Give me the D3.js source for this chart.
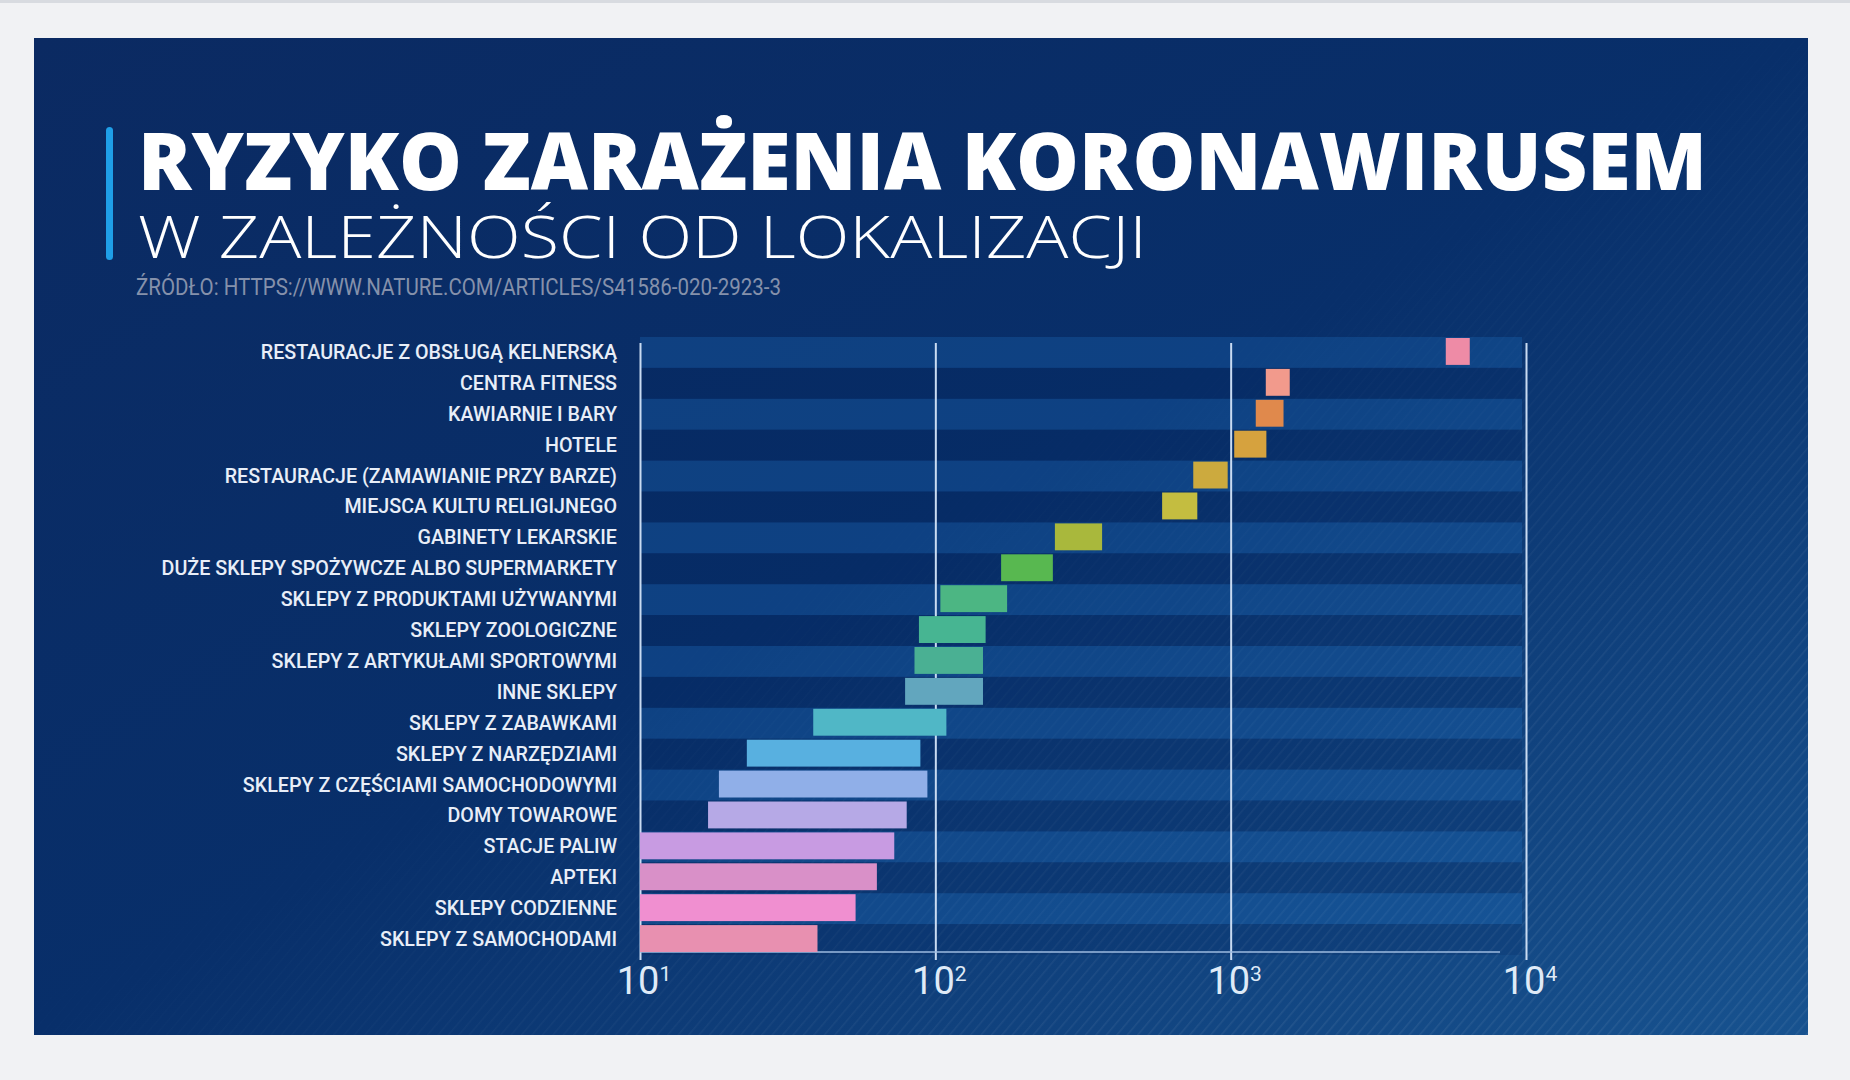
<!DOCTYPE html>
<html>
<head>
<meta charset="utf-8">
<script src="https://cdn.jsdelivr.net/npm/d3@7"></script>
<style>
  body { margin: 0; background: #f1f2f4; }
  svg { display: block; }
</style>
</head>
<body>
<script>
var categories = [
    "RESTAURACJE Z OBSŁUGĄ KELNERSKĄ",
    "CENTRA FITNESS",
    "KAWIARNIE I BARY",
    "HOTELE",
    "RESTAURACJE (ZAMAWIANIE PRZY BARZE)",
    "MIEJSCA KULTU RELIGIJNEGO",
    "GABINETY LEKARSKIE",
    "DUŻE SKLEPY SPOŻYWCZE ALBO SUPERMARKETY",
    "SKLEPY Z PRODUKTAMI UŻYWANYMI",
    "SKLEPY ZOOLOGICZNE",
    "SKLEPY Z ARTYKUŁAMI SPORTOWYMI",
    "INNE SKLEPY",
    "SKLEPY Z ZABAWKAMI",
    "SKLEPY Z NARZĘDZIAMI",
    "SKLEPY Z CZĘŚCIAMI SAMOCHODOWYMI",
    "DOMY TOWAROWE",
    "STACJE PALIW",
    "APTEKI",
    "SKLEPY CODZIENNE",
    "SKLEPY Z SAMOCHODAMI"
];
// lower and upper end of each range (log scale)
var lowValues = [5350, 1315, 1216, 1028, 747, 586, 254, 167, 104, 88, 85, 79, 38.6, 23, 18.5, 17, 10, 10, 10, 10];
var highValues = [6450, 1585, 1510, 1321, 977, 771, 367, 250, 175, 148, 145, 145, 109, 89, 94, 80, 72.6, 63.4, 53.7, 39.9];
var barColors = [
    "#ee8ba6", "#f29a8c", "#e0894c", "#d6a23e", "#ccaa3e", "#c4bd40", "#a9b83c",
    "#58b850", "#4cb683", "#47b592", "#4ab093", "#62a6be", "#50b7c6", "#58b0e0",
    "#90afe8", "#b6a9e6", "#c89be2", "#d990c8", "#f08fd0", "#e890b0"
];
var tickValues = [10, 100, 1000, 10000];

var titleText = "RYZYKO ZARAŻENIA KORONAWIRUSEM";
var subtitleText = "W ZALEŻNOŚCI OD LOKALIZACJI";
var sourceText = "ŹRÓDŁO: HTTPS://WWW.NATURE.COM/ARTICLES/S41586-020-2923-3";

var W = 1850, H = 1080;
var svg = d3.select("body").append("svg")
    .attr("width", W)
    .attr("height", H);

var defs = svg.append("defs");

var bg = defs.append("linearGradient")
    .attr("id", "panelGrad")
    .attr("x1", 0).attr("y1", 0).attr("x2", 1).attr("y2", 1);
bg.append("stop").attr("offset", "0%").attr("stop-color", "#0b2a62");
bg.append("stop").attr("offset", "50%").attr("stop-color", "#082f6a");
bg.append("stop").attr("offset", "100%").attr("stop-color", "#17528f");

// diagonal stripes on the lower right
var pat = defs.append("pattern")
    .attr("id", "stripes")
    .attr("patternUnits", "userSpaceOnUse")
    .attr("width", 8).attr("height", 8)
    .attr("patternTransform", "rotate(40)");
pat.append("rect").attr("width", 1.6).attr("height", 8).attr("fill", "#ffffff").attr("fill-opacity", 0.07);

var fade = defs.append("linearGradient")
    .attr("id", "fadeGrad")
    .attr("x1", 0).attr("y1", 0).attr("x2", 1).attr("y2", 1);
fade.append("stop").attr("offset", "45%").attr("stop-color", "#000");
fade.append("stop").attr("offset", "85%").attr("stop-color", "#fff");
defs.append("mask").attr("id", "stripeMask")
    .append("rect")
    .attr("x", 34).attr("y", 38).attr("width", 1774).attr("height", 997)
    .attr("fill", "url(#fadeGrad)");

svg.append("rect")
    .attr("width", W).attr("height", 3)
    .attr("fill", "#d8dbe0");

svg.append("rect")
    .attr("x", 34).attr("y", 38)
    .attr("width", 1774).attr("height", 997)
    .attr("fill", "url(#panelGrad)");
svg.append("rect")
    .attr("x", 34).attr("y", 38)
    .attr("width", 1774).attr("height", 997)
    .attr("fill", "url(#stripes)")
    .attr("mask", "url(#stripeMask)");

// title block
svg.append("rect")
    .attr("x", 106).attr("y", 127)
    .attr("width", 7).attr("height", 133)
    .attr("rx", 3.5)
    .attr("fill", "#1f9fe8");

svg.append("text")
    .attr("x", 138).attr("y", 190)
    .attr("textLength", 1569)
    .attr("lengthAdjust", "spacingAndGlyphs")
    .style("font-family", "'Open Sans', sans-serif")
    .style("font-weight", 800)
    .style("font-size", "79px")
    .attr("fill", "#ffffff")
    .text(titleText);

svg.append("text")
    .attr("x", 138).attr("y", 258)
    .attr("textLength", 1009)
    .attr("lengthAdjust", "spacingAndGlyphs")
    .style("font-family", "'Open Sans', sans-serif")
    .style("font-weight", 300)
    .style("font-size", "59px")
    .attr("fill", "#ffffff")
    .text(subtitleText);

svg.append("text")
    .attr("x", 136).attr("y", 295)
    .attr("textLength", 645)
    .attr("lengthAdjust", "spacingAndGlyphs")
    .style("font-family", "Roboto, sans-serif")
    .style("font-size", "24px")
    .attr("fill", "#8591ab")
    .text(sourceText);

// chart
var x = d3.scaleLog()
    .domain([10, 10000])
    .range([640, 1526]);

var y = d3.scaleBand()
    .domain(categories)
    .range([337, 955])
    .padding(0);

var g = svg.append("g");

// alternating row bands
g.selectAll(".band")
    .data(categories)
    .enter().append("rect")
    .attr("class", "band")
    .attr("x", x(10))
    .attr("y", function (d) { return y(d); })
    .attr("width", x(10000) - 4 - x(10))
    .attr("height", y.bandwidth())
    .attr("fill", function (d, i) { return i % 2 == 0 ? "#1e6ebe" : "#001950"; })
    .attr("fill-opacity", function (d, i) { return i % 2 == 0 ? 0.3 : 0.15; });

// vertical grid lines from the axis ticks
var grid = g.append("g")
    .attr("transform", "translate(0,960)")
    .call(d3.axisBottom(x)
        .tickValues(tickValues)
        .tickSize(-(960 - 343))
        .tickFormat(""));
grid.select(".domain").remove();
grid.selectAll(".tick line")
    .attr("stroke", "#c9dbf2")
    .attr("stroke-width", 2);

// baseline
g.append("line")
    .attr("x1", x(10)).attr("x2", x(10000) - 26)
    .attr("y1", 952).attr("y2", 952)
    .attr("stroke", "#9dbbe0")
    .attr("stroke-width", 1.5);

// range bars
g.selectAll(".bar")
    .data(categories)
    .enter().append("rect")
    .attr("class", "bar")
    .attr("x", function (d, i) { return x(lowValues[i]); })
    .attr("y", function (d) { return y(d) + 1; })
    .attr("width", function (d, i) { return x(highValues[i]) - x(lowValues[i]); })
    .attr("height", y.bandwidth() - 4)
    .attr("fill", function (d, i) { return barColors[i]; });

// category labels
g.selectAll(".label")
    .data(categories)
    .enter().append("text")
    .attr("class", "label")
    .attr("x", 617)
    .attr("y", function (d) { return y(d) + y.bandwidth() / 2; })
    .attr("dy", "0.33em")
    .attr("text-anchor", "end")
    .style("font-family", "Roboto, sans-serif")
    .style("font-weight", 500)
    .style("font-size", "19.7px")
    .attr("fill", "#e8eef8")
    .text(function (d) { return d; });

// tick labels 10^n
var tickLabels = g.selectAll(".tlabel")
    .data(tickValues)
    .enter().append("text")
    .attr("class", "tlabel")
    .attr("x", function (d) { return x(d) + 4; })
    .attr("y", 994)
    .attr("text-anchor", "middle")
    .style("font-family", "Roboto, sans-serif")
    .style("font-size", "38px")
    .attr("fill", "#dfeaf7");
tickLabels.append("tspan").text("10");
tickLabels.append("tspan")
    .attr("dy", -13)
    .style("font-size", "21px")
    .text(function (d) { return Math.round(Math.log10(d)); });
</script>
</body>
</html>
